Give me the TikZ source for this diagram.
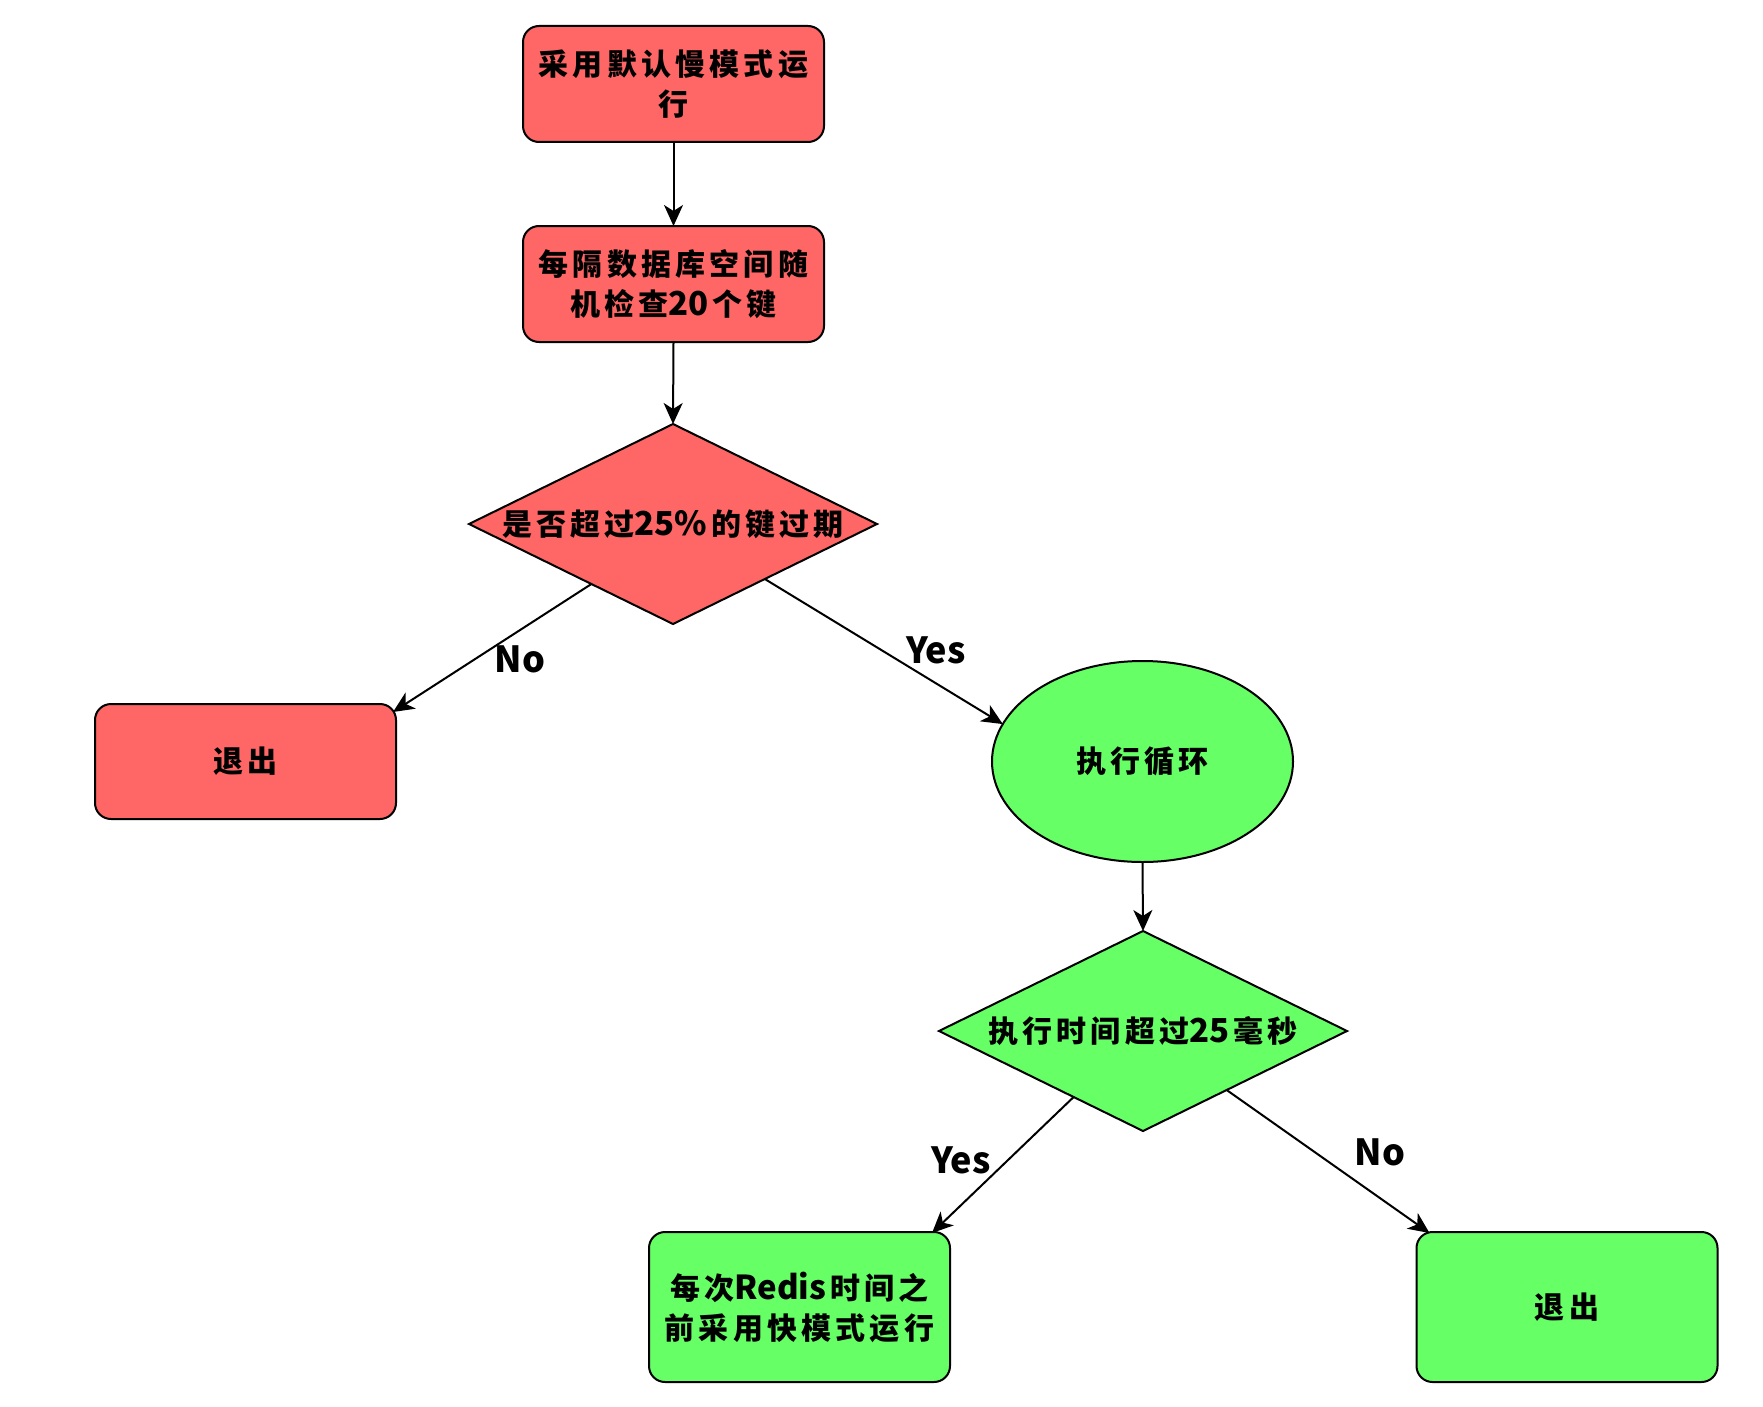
\documentclass[tikz,border=0pt]{standalone}
\usepackage{fontspec}
\usetikzlibrary{shapes.geometric,arrows.meta,calc}
\newfontfamily\cjkfont{Noto Sans CJK SC}[LetterSpace=14]
\newfontfamily\labfont{Noto Sans CJK SC}
\newcommand{\lat}[1]{{\labfont\bfseries\fontsize{33}{40}\selectfont #1}\hspace{4pt}}
\definecolor{cRed}{HTML}{FF6666}
\definecolor{cGreen}{HTML}{66FF66}
\begin{document}
\begin{tikzpicture}[x=1pt,y=-1pt,
  txt/.style={font=\cjkfont\bfseries\fontsize{30}{40}\selectfont, align=center, text=black},
  box/.style={draw=black, line width=2pt, rounded corners=16pt, minimum width=301pt,
    minimum height=116pt, inner sep=0pt, outer sep=0pt, txt},
  dia/.style={draw=black, line width=2pt, shape=diamond, minimum width=408pt,
    minimum height=200pt, inner sep=0pt, outer sep=0pt},
  ell/.style={draw=black, line width=2pt, shape=ellipse, minimum width=301pt,
    minimum height=201pt, inner sep=0pt, outer sep=0pt, txt},
  lbl/.style={font=\labfont\bfseries\fontsize{36}{40}\selectfont, text=black, inner sep=0pt},
  conn/.style={-{Stealth[length=21pt,width=19pt,inset=6pt]}, line width=2pt, draw=black}]
\useasboundingbox (0,0) rectangle (1763,1407);
\fill[white] (0,0) rectangle (1763,1407);

\node[box, fill=cRed] (b1) at (673.5,84) {采用默认慢模式运\\行};
\node[box, fill=cRed] (b2) at (673.5,284) {每隔数据库空间随\\机检查\lat{20}个键};
\node[dia, fill=cRed, label={[txt]center:是否超过\lat{25\%}的键过期}] (d1) at (673,524) {};
\node[box, fill=cRed, minimum height=115pt] (e1) at (245.5,761.5) {退出};
\node[ell, fill=cGreen] (lp) at (1142.5,761.5) {执行循环};
\node[dia, fill=cGreen, label={[txt]center:执行时间超过\lat{25}毫秒}] (d2) at (1143,1031) {};
\node[box, fill=cGreen, minimum height=150pt] (b3) at (799.5,1307) {每次\lat{Redis}时间之\\前采用快模式运行};
\node[box, fill=cGreen, minimum height=150pt] (e2) at (1567,1307) {退出};

\draw[conn] (b1.south) -- (b2.north);
\draw[conn] (b2.south) -- (d1.north);
\draw[conn] ($(d1.west)!0.6!(d1.south)$) -- ($(e1.north east)+(-3,8)$);
\draw[conn] ($(d1.south)!0.45!(d1.east)$) -- (lp.165);
\draw[conn] (lp.south) -- (d2.north);
\draw[conn] ($(d2.west)!0.66!(d2.south)$) -- ($(b3.north east)+(-18,1)$);
\draw[conn] ($(d2.south)!0.41!(d2.east)$) -- ($(e2.north west)+(13,1)$);

\node[lbl] (l1) at (520,659) {No};
\node[lbl] (l2) at (936,650) {Yes};
\node[lbl] (l3) at (961,1160) {Yes};
\node[lbl] (l4) at (1380,1152) {No};
\end{tikzpicture}
\end{document}
